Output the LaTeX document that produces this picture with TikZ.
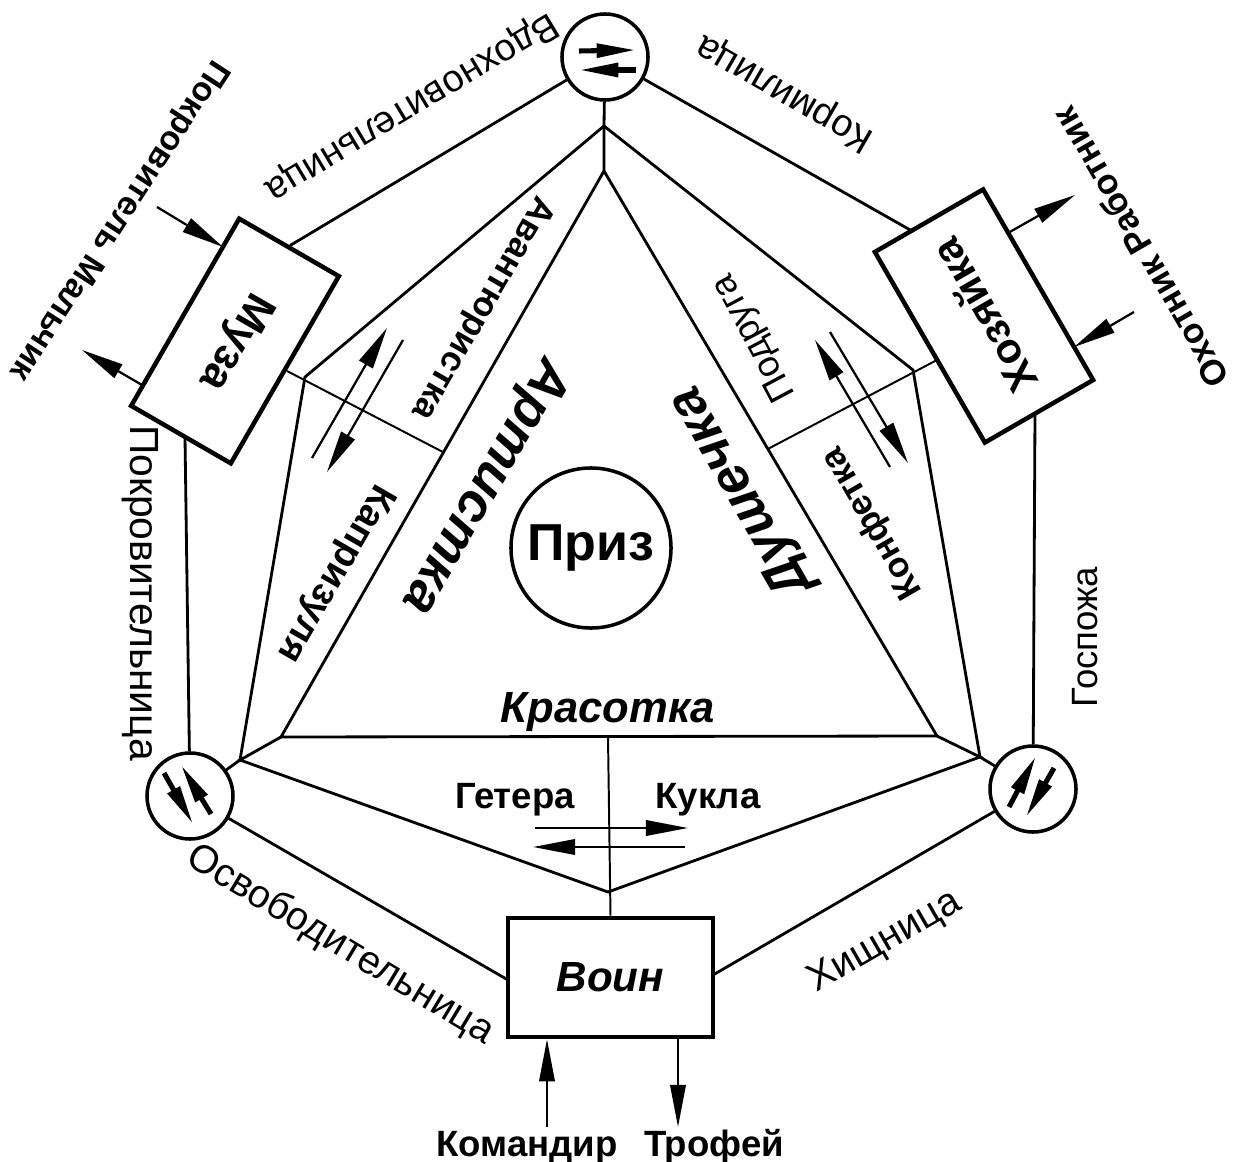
\documentclass[tikz,border=0pt]{standalone}
\usepackage{fontspec}
\setmainfont{Liberation Sans}
\usetikzlibrary{arrows.meta,calc}
\newcommand{\fsz}[1]{\fontsize{#1}{#1}\selectfont}
\begin{document}
\begin{tikzpicture}[x=0.025cm,y=-0.025cm,
  ln/.style={line width=2pt},
  thinln/.style={line width=1.4pt},
  boxnode/.style={draw,fill=white,line width=3.2pt,rectangle,inner sep=0pt},
  smallcirc/.style={draw,fill=white,line width=2.5pt,circle,minimum size=2.15cm,inner sep=0pt},
  arr/.style={line width=1.6pt,-{Triangle[length=30pt,width=11pt]}},
  harp/.style={line width=3.6pt,-{Triangle[length=28pt,width=9.5pt]}},
  lab/.style={inner sep=0pt},
]
\useasboundingbox (0,0) rectangle (1243,1162);

% junction coordinates
\coordinate (A1) at (604,126);
\coordinate (A2) at (604,171);
\coordinate (PL) at (305,377);
\coordinate (PR) at (913,370);
\coordinate (TL) at (281,737);
\coordinate (TR) at (937,736);
\coordinate (JL) at (240,760);
\coordinate (JR) at (980,757);
\coordinate (V) at (608,892);
\coordinate (K) at (608,737);
\coordinate (CL) at ($(A2)!0.497!(TL)$);
\coordinate (CR) at ($(A2)!0.492!(TR)$);
\coordinate (mzc) at (287,371);
\coordinate (hzc) at (937,360);
\coordinate (hz1) at (912,231);
\coordinate (hz2) at (1035,413);
\coordinate (mz2) at (185,437);
\coordinate (vl) at (508,980);
\coordinate (vr) at (713,975);

% boxes and circles
\node[boxnode,minimum width=5.4cm,minimum height=2.875cm,rotate=240,font=\fsz{31}\bfseries] (muza) at (235,341) {Муза};
\node[boxnode,minimum width=5.5cm,minimum height=3.125cm,rotate=120,font=\fsz{30}\bfseries] (hoz) at (984,316) {Хозяйка};
\node[boxnode,minimum width=5.125cm,minimum height=2.975cm,font=\fsz{30}\bfseries\itshape] (voin) at (610.5,977.5) {Воин};
\node[smallcirc] (TC) at (605,57) {};
\node[smallcirc] (LC) at (190,796) {};
\node[smallcirc] (RC) at (1033,789) {};
\node[draw,circle,line width=2.5pt,minimum size=4cm,inner sep=0pt,font=\fsz{37}\bfseries] (prize) at (591,548) {Приз};

% outer lines
\draw[ln] (TC) -- (muza.west);
\draw[ln] (TC) -- (hz1);
\draw[ln] (LC) -- (mz2);
\draw[ln] (RC) -- (hz2);
\draw[ln] (LC) -- (vl);
\draw[ln] (RC) -- (vr);

% inner structure
\draw[ln] (TC) -- (A1) -- (A2);
\draw[ln] (A1) -- (PL) -- (JL) -- (LC);
\draw[ln] (A1) -- (PR) -- (JR) -- (RC);
\draw[ln] (A2) -- (TL) -- (TR) -- cycle;
\draw[ln] (TL) -- (JL) -- (V) -- (JR) -- (TR);
\draw[thinln] (K) -- (voin.north);
\draw[thinln] (mzc) -- (CL);
\draw[thinln] (hzc) -- (CR);

% harpoon-like glyphs in small circles
\draw[harp] (579,51) -- (636,50);
\draw[harp] (636,70) -- (579,70);
\draw[harp] (164,773) -- (193,824);
\draw[harp] (211,814) -- (181,765);
\draw[harp] (1009,807) -- (1036,756);
\draw[harp] (1054,768) -- (1026,817);

% inner arrows
\draw[arr] (312,458) -- (387,328);
\draw[arr] (403,340) -- (327,472);
\draw[arr] (890,467) -- (815,340);
\draw[arr] (830,332) -- (908,463);
\draw[arr] (535,828) -- (688,828);
\draw[arr] (685,847) -- (533,847);

% outer arrows
\coordinate (mzin) at (157,207);
\coordinate (mzinE) at (223,247);
\coordinate (mzout) at (142,385);
\coordinate (mzoutE) at (82,350);
\coordinate (hzout) at (1008,233);
\coordinate (hzoutE) at (1075,195);
\coordinate (hzin) at (1134,312);
\coordinate (hzinE) at (1074,347);
\coordinate (kom) at (547,1127);
\coordinate (trE) at (678,1127);
\draw[arr] (mzin) -- (mzinE);
\draw[arr] (mzout) -- (mzoutE);
\draw[arr] (hzout) -- (hzoutE);
\draw[arr] (hzin) -- (hzinE);
\draw[arr] (kom) -- (kom |- voin.south);
\draw[arr] (trE |- voin.south) -- (trE);

% labels
\node[lab,rotate=211,font=\fsz{27}] (l1) at (411,106) {Вдохновительница};
\node[lab,rotate=150,font=\fsz{27}] (l2) at (785,92) {Кормилица};
\node[lab,rotate=237,font=\fsz{24}\bfseries] (l3) at (118,220) {Покровитель Мальчик};
\node[lab,rotate=120,font=\fsz{25}\bfseries] (l4) at (1140,248) {Охотник Работник};
\node[lab,rotate=-90,font=\fsz{29}] (l5) at (140,593) {Покровительница};
\node[lab,rotate=90,font=\fsz{26}] (l6) at (1085,637) {Госпожа};
\node[lab,rotate=-31,font=\fsz{28}] (l7) at (340,945) {Освободительница};
\node[lab,rotate=30,font=\fsz{28}] (l8) at (885,942) {Хищница};
\node[lab,rotate=240,font=\fsz{25}\bfseries] (l9) at (482,308) {Авантюристка};
\node[lab,rotate=240,font=\fsz{38}\bfseries\itshape] (l10) at (484,486) {Артистка};
\node[lab,rotate=120,font=\fsz{38}\bfseries\itshape] (l11) at (742,492) {Душечка};
\node[lab,rotate=240,font=\fsz{27}\bfseries] (l12) at (335,573) {Капризуля};
\node[lab,rotate=120,font=\fsz{25}\bfseries] (l13) at (873,523) {Конфетка};
\node[lab,rotate=118,font=\fsz{26}] (l14) at (755,338) {Подруга};
\node[lab,anchor=base,font=\fsz{31}\bfseries\itshape] (l15) at (608,722) {Красотка};
\node[lab,anchor=base,font=\fsz{26}\bfseries] (l16) at (515,808) {Гетера};
\node[lab,anchor=base,font=\fsz{26}\bfseries] (l17) at (708,808) {Кукла};
\node[lab,anchor=base,font=\fsz{26}\bfseries] (l18) at (527,1156) {Командир};
\node[lab,anchor=base,font=\fsz{26}\bfseries] (l19) at (714,1156) {Трофей};
\end{tikzpicture}
\end{document}
